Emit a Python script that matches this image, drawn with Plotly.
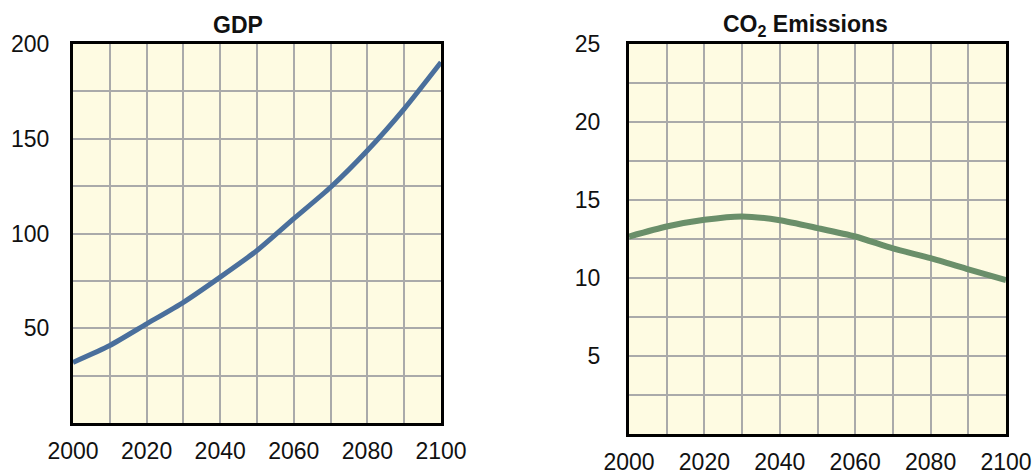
import plotly.graph_objects as go

years = [2000, 2010, 2020, 2030, 2040, 2050, 2060, 2070, 2080, 2090, 2100]
gdp = [32, 40.9, 52.3, 63.7, 77.0, 91.0, 107.8, 124.4, 143.8, 165.8, 190.4]
co2 = [12.66, 13.3, 13.73, 13.95, 13.7, 13.2, 12.66, 11.9, 11.27, 10.56, 9.87]
x_ticks = [2000, 2020, 2040, 2060, 2080, 2100]
gdp_ticks = [50, 100, 150, 200]
co2_ticks = [5, 10, 15, 20, 25]

FONT = "Liberation Sans, Arial, Helvetica, sans-serif"
BG = "#FEFBE2"
GRID = "#AAAAAA"

fig = go.Figure()
fig.add_trace(go.Scatter(x=years, y=gdp, mode="lines", line=dict(color="#4A6F9C", width=5, shape="spline", smoothing=0.6),
                         xaxis="x", yaxis="y", showlegend=False, hoverinfo="skip"))
fig.add_trace(go.Scatter(x=years, y=co2, mode="lines", line=dict(color="#6A8F6A", width=6, shape="spline", smoothing=0.6),
                         xaxis="x2", yaxis="y2", showlegend=False, hoverinfo="skip"))

common_x = dict(range=[2000, 2100], tickvals=x_ticks, showgrid=True, gridcolor=GRID, gridwidth=1.5,
                minor=dict(dtick=10, tick0=2000, showgrid=True, gridcolor=GRID, gridwidth=1.5),
                showline=True, linecolor="black", linewidth=3, mirror=True, zeroline=False, automargin=False,
                tickfont=dict(family=FONT, size=23, color="#111"), ticks="")
common_y = dict(showgrid=True, gridcolor=GRID, gridwidth=1.5, automargin=False,
                showline=True, linecolor="black", linewidth=3, mirror=True, zeroline=False,
                tickfont=dict(family=FONT, size=23, color="#111"), ticks="")

fig.update_layout(
    width=1035, height=474,
    margin=dict(l=0, r=0, t=0, b=0),
    paper_bgcolor="white", plot_bgcolor=BG,
    xaxis=dict(domain=[73/1035, 441/1035], anchor="y", ticklabelstandoff=5, **common_x),
    yaxis=dict(domain=[51/474, 430/474], anchor="x", range=[0, 200], tickvals=gdp_ticks,
               minor=dict(dtick=25, tick0=0, showgrid=True, gridcolor=GRID, gridwidth=1.5),
               ticklabelstandoff=16, **common_y),
    xaxis2=dict(domain=[629/1035, 1006/1035], anchor="y2", ticklabelstandoff=5, **common_x),
    yaxis2=dict(domain=[40/474, 430/474], anchor="x2", range=[0, 25], tickvals=co2_ticks,
                minor=dict(dtick=2.5, tick0=0, showgrid=True, gridcolor=GRID, gridwidth=1.5),
                ticklabelstandoff=21, **common_y),
    annotations=[
        dict(text="<b>GDP</b>", x=238/1035, y=1-25/474, xref="paper", yref="paper",
             showarrow=False, font=dict(family=FONT, size=23, color="#111"), xanchor="center", yanchor="middle"),
        dict(text="<b>CO<sub>2</sub> Emissions</b>", x=805/1035, y=1-25/474, xref="paper", yref="paper",
             showarrow=False, font=dict(family=FONT, size=23, color="#111"), xanchor="center", yanchor="middle"),
    ],
)

fig.write_html("out.html", config={"displayModeBar": False},
               post_script="document.body.style.margin='0px';document.body.style.overflow='hidden';")
